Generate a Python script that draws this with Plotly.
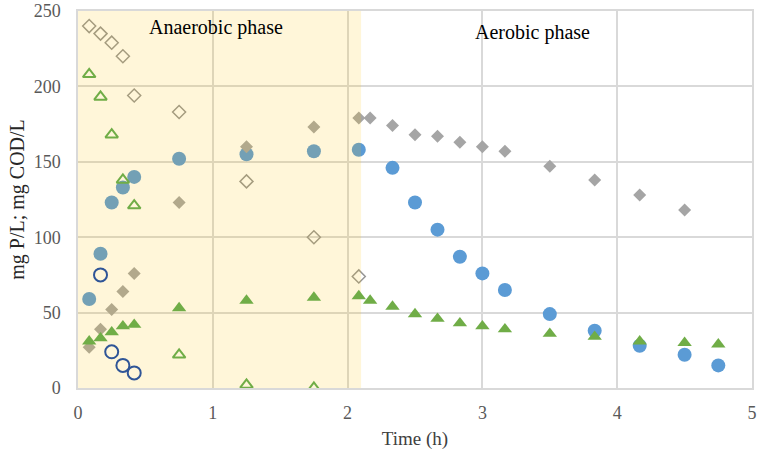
import plotly.graph_objects as go

# ---------------- data ----------------
ANAEROBIC_END = 2.1

# Filled circles (P) - anaerobic + aerobic
p_time = [0.083, 0.167, 0.25, 0.333, 0.417, 0.75, 1.25, 1.75, 2.083,
          2.333, 2.5, 2.667, 2.833, 3.0, 3.167, 3.5, 3.833, 4.167, 4.5, 4.75]
p_vals = [59, 89, 123, 133, 140, 152, 155, 157, 158,
          146, 123, 105, 87, 76, 65, 49, 38, 28, 22, 15]

# Filled diamonds (gray)
d_time = [0.083, 0.167, 0.25, 0.333, 0.417, 0.75, 1.25, 1.75, 2.083,
          2.167, 2.333, 2.5, 2.667, 2.833, 3.0, 3.167, 3.5, 3.833, 4.167, 4.5]
d_vals = [27, 39, 52, 64, 76, 123, 160, 173, 179,
          179, 174, 168, 167, 163, 160, 157, 147, 138, 128, 118]

# Open diamonds
od_time = [0.083, 0.167, 0.25, 0.333, 0.417, 0.75, 1.25, 1.75, 2.083]
od_vals = [240, 235, 229, 220, 194, 183, 137, 100, 74]

# Filled triangles (green)
tr_time = [0.083, 0.167, 0.25, 0.333, 0.417, 0.75, 1.25, 1.75, 2.083,
           2.167, 2.333, 2.5, 2.667, 2.833, 3.0, 3.167, 3.5, 3.833, 4.167, 4.5, 4.75]
tr_vals = [31, 33, 37, 41, 42, 53, 58, 60, 61,
           58, 54, 49, 46, 43, 41, 39, 36, 34, 31, 30, 29]

# Open triangles
otr_time = [0.083, 0.167, 0.25, 0.333, 0.417, 0.75, 1.25, 1.75]
otr_vals = [208, 193, 168, 138, 121, 22, 2, 0]

# Open circles
oc_time = [0.167, 0.25, 0.333, 0.417]
oc_vals = [75, 24, 15, 10]

x_ticks = [0, 1, 2, 3, 4, 5]
y_ticks = [0, 50, 100, 150, 200, 250]

# ---------------- figure ----------------
fig = go.Figure()

fig.add_trace(go.Scatter(x=p_time, y=p_vals, mode="markers",
                         marker=dict(symbol="circle", size=14, color="#5B9BD5",
                                     line=dict(width=0))))
fig.add_trace(go.Scatter(x=d_time, y=d_vals, mode="markers",
                         marker=dict(symbol="diamond", size=10, color="#A5A5A5",
                                     line=dict(width=0))))
fig.add_trace(go.Scatter(x=od_time, y=od_vals, mode="markers",
                         marker=dict(symbol="diamond-open", size=10, color="#969696",
                                     line=dict(width=1.5, color="#969696"))))

# Shaded anaerobic region drawn above the previous series
fig.add_trace(go.Scatter(x=[0, ANAEROBIC_END, ANAEROBIC_END, 0, 0],
                         y=[0, 0, 250, 250, 0], mode="none", fill="toself",
                         fillcolor="rgba(255,192,0,0.15)", hoverinfo="skip"))

fig.add_trace(go.Scatter(x=tr_time, y=tr_vals, mode="markers",
                         marker=dict(symbol="triangle-up", size=12.5, color="#70AD47",
                                     line=dict(width=0))))
fig.add_trace(go.Scatter(x=otr_time, y=otr_vals, mode="markers",
                         marker=dict(symbol="triangle-up-open", size=11, color="#70AD47",
                                     line=dict(width=2, color="#70AD47"))))
fig.add_trace(go.Scatter(x=oc_time, y=oc_vals, mode="markers",
                         marker=dict(symbol="circle-open", size=13, color="#2F5597",
                                     line=dict(width=2, color="#2F5597"))))

fig.add_annotation(x=1.02, y=239, xref="x", yref="y", text="Anaerobic phase",
                   showarrow=False, font=dict(family="Liberation Serif", size=20, color="#000"))
fig.add_annotation(x=3.37, y=236, xref="x", yref="y", text="Aerobic phase",
                   showarrow=False, font=dict(family="Liberation Serif", size=20, color="#000"))

fig.update_layout(
    width=765, height=457,
    margin=dict(l=77.5, r=12.5, t=11, b=69),
    paper_bgcolor="white", plot_bgcolor="white",
    showlegend=False,
    font=dict(family="Liberation Serif", size=18, color="#595959"),
    xaxis=dict(range=[0, 5], tickvals=x_ticks, showgrid=True, gridcolor="#D9D9D9",
               gridwidth=1.5, zeroline=False, showline=True, linecolor="#D9D9D9",
               linewidth=1.5, mirror=True, ticks="", ticklabelstandoff=8,
               automargin=False,
               title=dict(text="Time (h)", font=dict(size=19, color="#404040"), standoff=9)),
    yaxis=dict(range=[0, 250], tickvals=y_ticks, showgrid=True, gridcolor="#D9D9D9",
               gridwidth=1.5, zeroline=False, showline=True, linecolor="#D9D9D9",
               linewidth=1.5, mirror=True, ticks="", ticklabelstandoff=12,
               ticklabeloverflow="allow", automargin=False,
               title=dict(text="mg P/L; mg COD/L", font=dict(size=20, color="#262626"), standoff=4)),
)

fig.write_html("out.html", config={"displayModeBar": False},
               post_script="document.body.style.margin='0';")
